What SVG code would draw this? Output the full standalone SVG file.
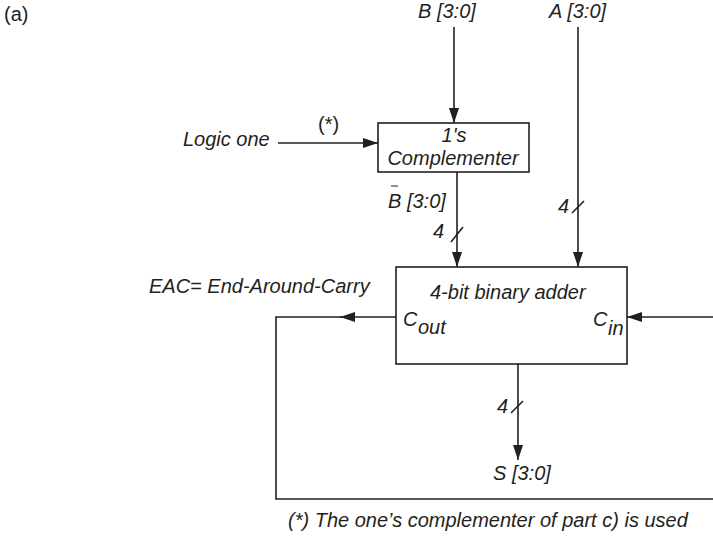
<svg xmlns="http://www.w3.org/2000/svg" width="713" height="536" viewBox="0 0 713 536">
<style>
text{font-family:"Liberation Sans",Arial,sans-serif;font-size:20px;fill:#231f20}
.i{font-style:italic}
.ln{stroke:#231f20;stroke-width:1.6;fill:none}
.box{stroke:#231f20;stroke-width:1.6;fill:#fff}
.ah{fill:#231f20;stroke:none}
</style>
<defs>
<marker id="arr" markerWidth="15" markerHeight="10" refX="15" refY="5" orient="auto" markerUnits="userSpaceOnUse">
<path d="M0,0 L15,5 L0,10 Z" class="ah"/>
</marker>
</defs>
<rect width="713" height="536" fill="#fff"/>
<text x="4" y="21">(a)</text>
<text class="i" x="418" y="18">B [3:0]</text>
<text class="i" x="549" y="18">A [3:0]</text>
<text class="i" x="149" y="293">EAC= End-Around-Carry</text>
<text class="i" x="288" y="527">(*) The one’s complementer of part c) is used</text>

<g id="connectors">
<line class="ln" x1="454" y1="27" x2="454" y2="123" marker-end="url(#arr)"/>
<line class="ln" x1="578" y1="27" x2="578" y2="267" marker-end="url(#arr)"/>
<line class="ln" x1="278" y1="143" x2="378" y2="143" marker-end="url(#arr)"/>
<line class="ln" x1="457" y1="172" x2="457" y2="267" marker-end="url(#arr)"/>
<line class="ln" x1="518" y1="364" x2="518" y2="460" marker-end="url(#arr)"/>
<line class="ln" x1="396" y1="317" x2="340" y2="317" marker-end="url(#arr)"/>
<polyline class="ln" points="342,317 276,317 276,499 713,499"/>
<line class="ln" x1="713" y1="317" x2="627" y2="317" marker-end="url(#arr)"/>
<line class="ln" x1="451" y1="242" x2="463" y2="227"/>
<line class="ln" x1="572" y1="213" x2="584" y2="201"/>
<line class="ln" x1="511" y1="413" x2="523" y2="401"/>
<text class="i" x="433" y="238">4</text>
<text class="i" x="558" y="213">4</text>
<text class="i" x="497" y="413">4</text>
<text x="318" y="131">(*)</text>
<text class="i" x="183" y="146">Logic one</text>
<line class="ln" x1="391" y1="186" x2="398" y2="186" style="stroke-width:1"/>
<text class="i" x="388" y="208">B [3:0]</text>
<text class="i" x="493" y="480">S [3:0]</text>
</g>

<g id="complementer">
<rect class="box" x="378" y="123" width="151" height="49"/>
<text class="i" x="454" y="142" text-anchor="middle">1's</text>
<text class="i" x="453" y="165" text-anchor="middle">Complementer</text>
</g>

<g id="adder">
<rect class="box" x="396" y="267" width="231" height="97"/>
<text class="i" x="430" y="299">4-bit binary adder</text>
<text class="i" x="403" y="326">C</text>
<text class="i" x="418" y="334">out</text>
<text class="i" x="593" y="326">C</text>
<text class="i" x="608" y="335">in</text>
</g>
</svg>
